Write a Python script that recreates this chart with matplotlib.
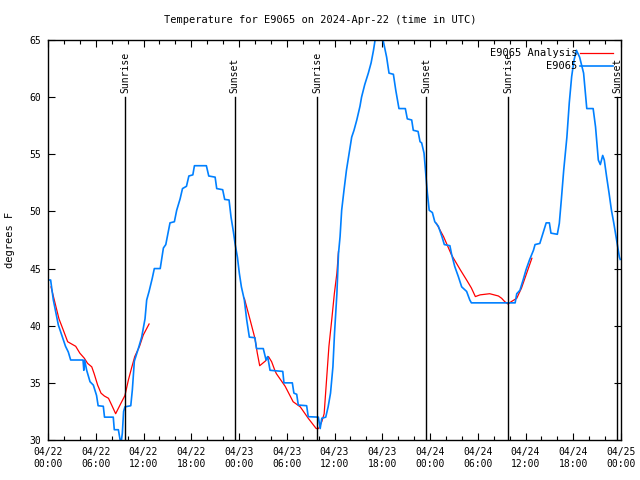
#!/usr/bin/env python
"""Recreate the E9065 temperature chart (observations vs analysis, sunrise/sunset marks)."""
import matplotlib
matplotlib.use("Agg")
import matplotlib.pyplot as plt
import matplotlib.dates as mdates
import pandas as pd

START = pd.Timestamp("2024-04-22 00:00")

# observed temperature, hours since start / degrees F
obs_hours = [0.0, 0.33, 0.67, 1.09, 1.3, 1.8, 2.2, 2.55, 2.85, 4.4, 4.5, 4.6, 4.86, 5.28, 5.7,
             6.1, 6.3, 6.95, 7.1, 8.2, 8.33, 8.84, 9.05, 9.2, 9.34, 9.5, 9.67, 10.4, 10.6,
             10.85, 11.35, 11.77, 12.19, 12.4, 12.7, 13.1, 13.36, 14.1, 14.5, 14.8, 15.33,
             15.88, 16.17, 16.6, 16.9, 17.4, 17.7, 18.2, 18.4, 19.9, 20.2, 21.0, 21.2, 21.95,
             22.2, 22.75, 23.0, 23.3, 23.5, 23.8, 24.04, 24.3, 24.67, 24.97, 25.3, 26.0,
             26.2, 27.05, 27.4, 27.6, 27.9, 29.5, 29.65, 30.7, 30.9, 31.25, 31.45, 32.5,
             32.7, 33.97, 34.2, 34.4, 34.9, 35.2, 35.5, 35.8, 36.0, 36.3, 36.5, 36.7, 36.9,
             37.2, 37.5, 37.95, 38.16, 38.45, 38.8, 39.2, 39.4, 39.8, 40.25, 40.6, 40.9,
             41.1, 41.6, 42.1, 42.55, 42.85, 43.4, 43.7, 44.1, 44.9, 45.15, 45.7, 45.9,
             46.5, 46.75, 46.95, 47.25, 47.5, 47.67, 47.9, 48.3, 48.6, 49.05, 49.5, 49.8,
             50.5, 50.7, 51.1, 51.56, 51.98, 52.6, 53.0, 53.2, 58.7, 58.9, 59.3, 59.7,
             60.07, 60.5, 61.0, 61.2, 61.8, 62.2, 62.6, 63.0, 63.2, 64.0, 64.25, 64.5,
             64.8, 65.2, 65.5, 65.8, 66.1, 66.4, 66.8, 67.3, 67.7, 68.5, 68.8, 69.15,
             69.4, 69.7, 69.9, 70.2, 70.5, 70.8, 71.1, 71.45, 71.8, 71.9]
obs_temp = [44.0, 44.0, 42.25, 40.8, 40.06, 39.04, 38.2, 37.7, 37.0, 37.0, 36.1, 37.0, 36.1,
            35.1, 34.8, 33.9, 33.0, 32.95, 32.0, 32.0, 30.9, 30.9, 30.06, 29.8, 30.6, 32.5,
            32.9, 33.0, 34.4, 36.9, 38.0, 39.0, 40.6, 42.25, 43.0, 44.15, 45.0, 45.0, 46.8,
            47.1, 49.0, 49.1, 50.1, 51.1, 52.0, 52.2, 53.1, 53.2, 54.0, 54.0, 53.1, 53.0,
            52.0, 51.9, 51.05, 51.0, 49.5, 48.2, 47.2, 46.0, 44.6, 43.4, 42.25, 40.5, 39.0,
            38.95, 38.0, 38.0, 37.0, 37.3, 36.1, 36.0, 35.0, 35.0, 34.1, 34.0, 33.06, 33.0,
            32.04, 32.0, 31.0, 31.9, 32.0, 32.9, 34.1, 36.4, 39.3, 42.8, 46.3, 47.8, 50.1,
            51.9, 53.6, 55.6, 56.5, 57.1, 58.0, 59.2, 60.0, 61.1, 62.1, 63.0, 64.1, 65.0,
            65.6, 65.0, 63.5, 62.1, 62.0, 60.6, 59.0, 59.0, 58.1, 58.0, 57.1, 57.0, 56.1,
            56.0, 55.1, 53.0, 51.6, 50.1, 49.9, 49.1, 48.7, 47.8, 47.1, 47.0, 46.3, 45.2,
            44.3, 43.4, 43.0, 42.25, 42.0, 42.0, 42.8, 43.1, 44.0, 44.9, 45.75, 46.6, 47.1,
            47.2, 48.1, 49.0, 49.0, 48.1, 48.0, 48.96, 51.0, 53.6, 56.5, 59.5, 61.8, 63.25,
            64.1, 63.5, 62.1, 59.0, 59.0, 57.4, 54.5, 54.1, 54.9, 54.5, 53.0, 51.6, 50.1,
            48.96, 47.5, 46.0, 45.8]

# analysis, three separate runs (NaN breaks the line between them)
ana_hours = [0.38, 0.88, 1.38, 1.93, 2.47, 2.97, 3.48, 4.0, 4.57, 4.98, 5.5, 5.8, 6.24, 6.66,
             7.08, 7.6, 8.0, 8.5, 9.05, 9.67, 10.1, 10.5, 10.9, 11.5, 11.98, 12.7,
             12.8,
             24.67, 25.4, 26.0, 26.3, 26.6, 27.3, 27.7, 28.1, 28.5, 28.7, 29.8, 30.8, 31.7,
             32.7, 33.7, 34.0, 34.4, 34.7, 35.0, 35.3, 35.65, 35.98, 36.3, 36.5,
             36.6,
             48.8, 49.7, 50.7, 51.8, 52.6, 53.2, 53.7, 54.3, 55.5, 56.6, 57.0, 57.4, 57.8,
             58.2, 58.9, 59.5, 60.15, 60.8]
ana_temp = [43.4, 42.0, 40.6, 39.6, 38.6, 38.4, 38.2, 37.6, 37.15, 36.7, 36.4, 35.8, 34.8,
            34.1, 33.85, 33.65, 33.06, 32.3, 33.06, 33.9, 35.25, 36.3, 37.3, 38.2, 39.2, 40.15,
            float("nan"),
            42.4, 40.5, 38.9, 37.6, 36.5, 36.9, 37.3, 36.85, 36.1, 35.8, 34.7, 33.35, 32.9,
            31.9, 31.0, 31.0, 31.6, 32.3, 35.25, 38.2, 40.5, 42.8, 44.6, 46.5,
            float("nan"),
            48.96, 47.8, 46.2, 44.9, 44.0, 43.3, 42.55, 42.7, 42.8, 42.6, 42.4, 42.1, 41.9,
            42.1, 42.4, 43.3, 44.6, 45.9]

# sunrise / sunset, hours since start
sun_hours = [9.72, 23.45, 33.85, 47.55, 57.85, 71.55]
sun_labels = ["Sunrise", "Sunset", "Sunrise", "Sunset", "Sunrise", "Sunset"]


def to_time(hours):
    return START + pd.to_timedelta(hours, unit="h")


plt.rcParams["font.family"] = ["DejaVu Sans Mono"]
plt.rcParams["font.size"] = 7

fig = plt.figure(figsize=(6.4, 4.8), dpi=100)
ax = fig.add_axes([48 / 640, 1 - 440 / 480, 573 / 640, 400 / 480])

ax.plot(to_time(ana_hours), ana_temp, color="#ff0000", linewidth=0.9, label="E9065 Analysis")
ax.plot(to_time(obs_hours), obs_temp, color="#0080ff", linewidth=1.2, label="E9065")

for h, lab in zip(sun_hours, sun_labels):
    t = to_time(h)
    ax.plot([t, t], [30, 60], color="black", linewidth=1.0)
    ax.text(t, 60.4, lab, rotation=90, ha="center", va="bottom", fontsize=7)

ax.set_xlim(START, START + pd.Timedelta(hours=72))
ax.set_ylim(30, 65)
ax.set_yticks(range(30, 66, 5))
ax.xaxis.set_major_locator(mdates.HourLocator(byhour=[0, 6, 12, 18]))
ax.xaxis.set_minor_locator(mdates.HourLocator(interval=2))
ax.xaxis.set_major_formatter(mdates.DateFormatter("%m/%d\n%H:%M"))
ax.tick_params(which="both", direction="in", top=True, right=True, width=0.8)
ax.tick_params(which="major", length=5, pad=5)
ax.tick_params(which="minor", length=3)
for sp in ax.spines.values():
    sp.set_linewidth(1.0)

ax.legend(loc="upper right", frameon=False, markerfirst=False, handlelength=3.1,
          labelspacing=0.3, borderaxespad=0.4, handletextpad=0.3, fontsize=7.5)

fig.text(0.5, 1 - 20 / 480, "Temperature for E9065 on 2024-Apr-22 (time in UTC)",
         ha="center", va="center", fontsize=7.5)
fig.text(10 / 640, 0.5, "degrees F", rotation=90, ha="center", va="center", fontsize=7.5)

fig.savefig("out.png", dpi=100)
